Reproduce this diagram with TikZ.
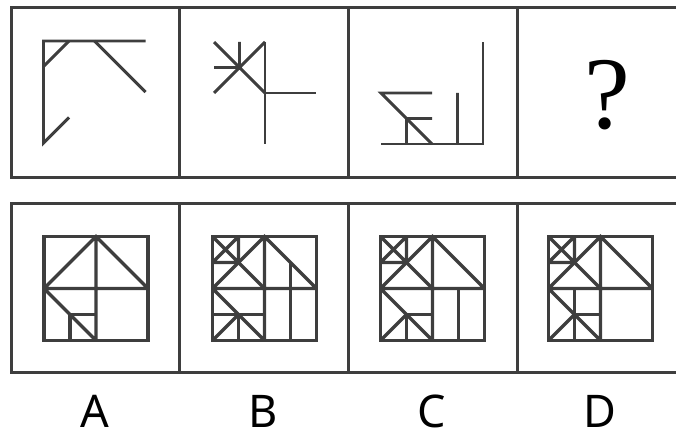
\documentclass[tikz,border=0pt]{standalone}
\usepackage{fontspec}
\usepackage{tikz}
\usetikzlibrary{positioning}
\newfontfamily\qfont{Liberation Serif}
\newfontfamily\labfont{Noto Sans}
\definecolor{ink}{HTML}{3E3E3E}

\begin{document}
\begin{tikzpicture}[x=1pt, y=-1pt,
  frame/.style={draw=ink, line width=3pt},
  toppiece/.style={draw=ink, line width=2.9pt},
  optpiece/.style={draw=ink, line width=3.3pt},
  topfig/.style={shift={#1}, x=25.5pt, y=-25.5pt},
  optfig/.style={shift={#1}, x=26pt, y=-26pt},
  optlabel/.style={anchor=base, inner sep=0pt, text=black,
    font=\labfont\fontsize{45}{45}\selectfont}]

\useasboundingbox (0,0) rectangle (676,433);
\clip (0,0) rectangle (676,433);

% ---- the two rows of cells ----------------------------------------------
\foreach \y/\h in {7.5/177.5, 203/372} {
  \draw[frame] (11.5,\y) rectangle (687,\h);
  \foreach \x in {179.5,348,517}
    \draw[frame] (\x,\y) -- (\x,\h);
}

% ---- question row -------------------------------------------------------
\begin{scope}[topfig={(43.5,41)}]
  \draw[toppiece] (1,3) -- (0,4) -- (0,0) -- (4,0);
  \draw[toppiece] (0,1) -- (1,0) (2,0) -- (4,2);
\end{scope}
\begin{scope}[topfig={(214,42)}]
  \draw[toppiece] (0,0) -- (2,2) (0,2) -- (2,0) (1,0) -- (1,1) -- (0,1);
  \draw[toppiece] (2,0) -- (2,4) (2,2) -- (4,2);
\end{scope}
\begin{scope}[topfig={(381,42)}]
  \draw[toppiece] (0,4) -- (4,4) -- (4,0);
  \draw[toppiece] (3,2) -- (3,4) (2,2) -- (0,2) -- (2,4) (1,4) -- (1,3) -- (2,3);
\end{scope}
\node[inner sep=0pt, font=\qfont\fontsize{103}{103}\selectfont] (qmark) at (607,95) {?};

% ---- answer row: shared frame of every option ---------------------------
\foreach \ox/\nm in {44/A, 212.5/B, 380.5/C, 548.5/D} {
  \begin{scope}[optfig={(\ox,236.5)}]
    \draw[optpiece] (0,0) rectangle (4,4);
    \draw[optpiece] (2,0) -- (2,4) (0,2) -- (4,2) (0,2) -- (2,0) -- (4,2) (0,2) -- (2,4);
  \end{scope}
  \node[optlabel] (lab\nm) at (\ox+51,427) {\nm};
}

% ---- answer row: the parts that differ ----------------------------------
\begin{scope}[optfig={(44,236.5)}]
  \draw[optpiece] (1,4) -- (1,3) -- (2,3);
\end{scope}
\foreach \ox in {212.5,380.5,548.5} {
  \begin{scope}[optfig={(\ox,236.5)}]
    \draw[optpiece] (0,0) -- (2,2) (0,1) -- (1,0) (1,0) -- (1,1) -- (0,1);
    \draw[optpiece] (0,4) -- (1,3);
  \end{scope}
}
\begin{scope}[optfig={(212.5,236.5)}]
  \draw[optpiece] (3,1) -- (3,4) (0,3) -- (2,3) (1,3) -- (1,4);
\end{scope}
\begin{scope}[optfig={(380.5,236.5)}]
  \draw[optpiece] (3,2) -- (3,4) (1,4) -- (1,3) -- (2,3);
\end{scope}
\begin{scope}[optfig={(548.5,236.5)}]
  \draw[optpiece] (1,2) -- (1,4) (1,3) -- (2,3);
\end{scope}
\end{tikzpicture}
\end{document}
